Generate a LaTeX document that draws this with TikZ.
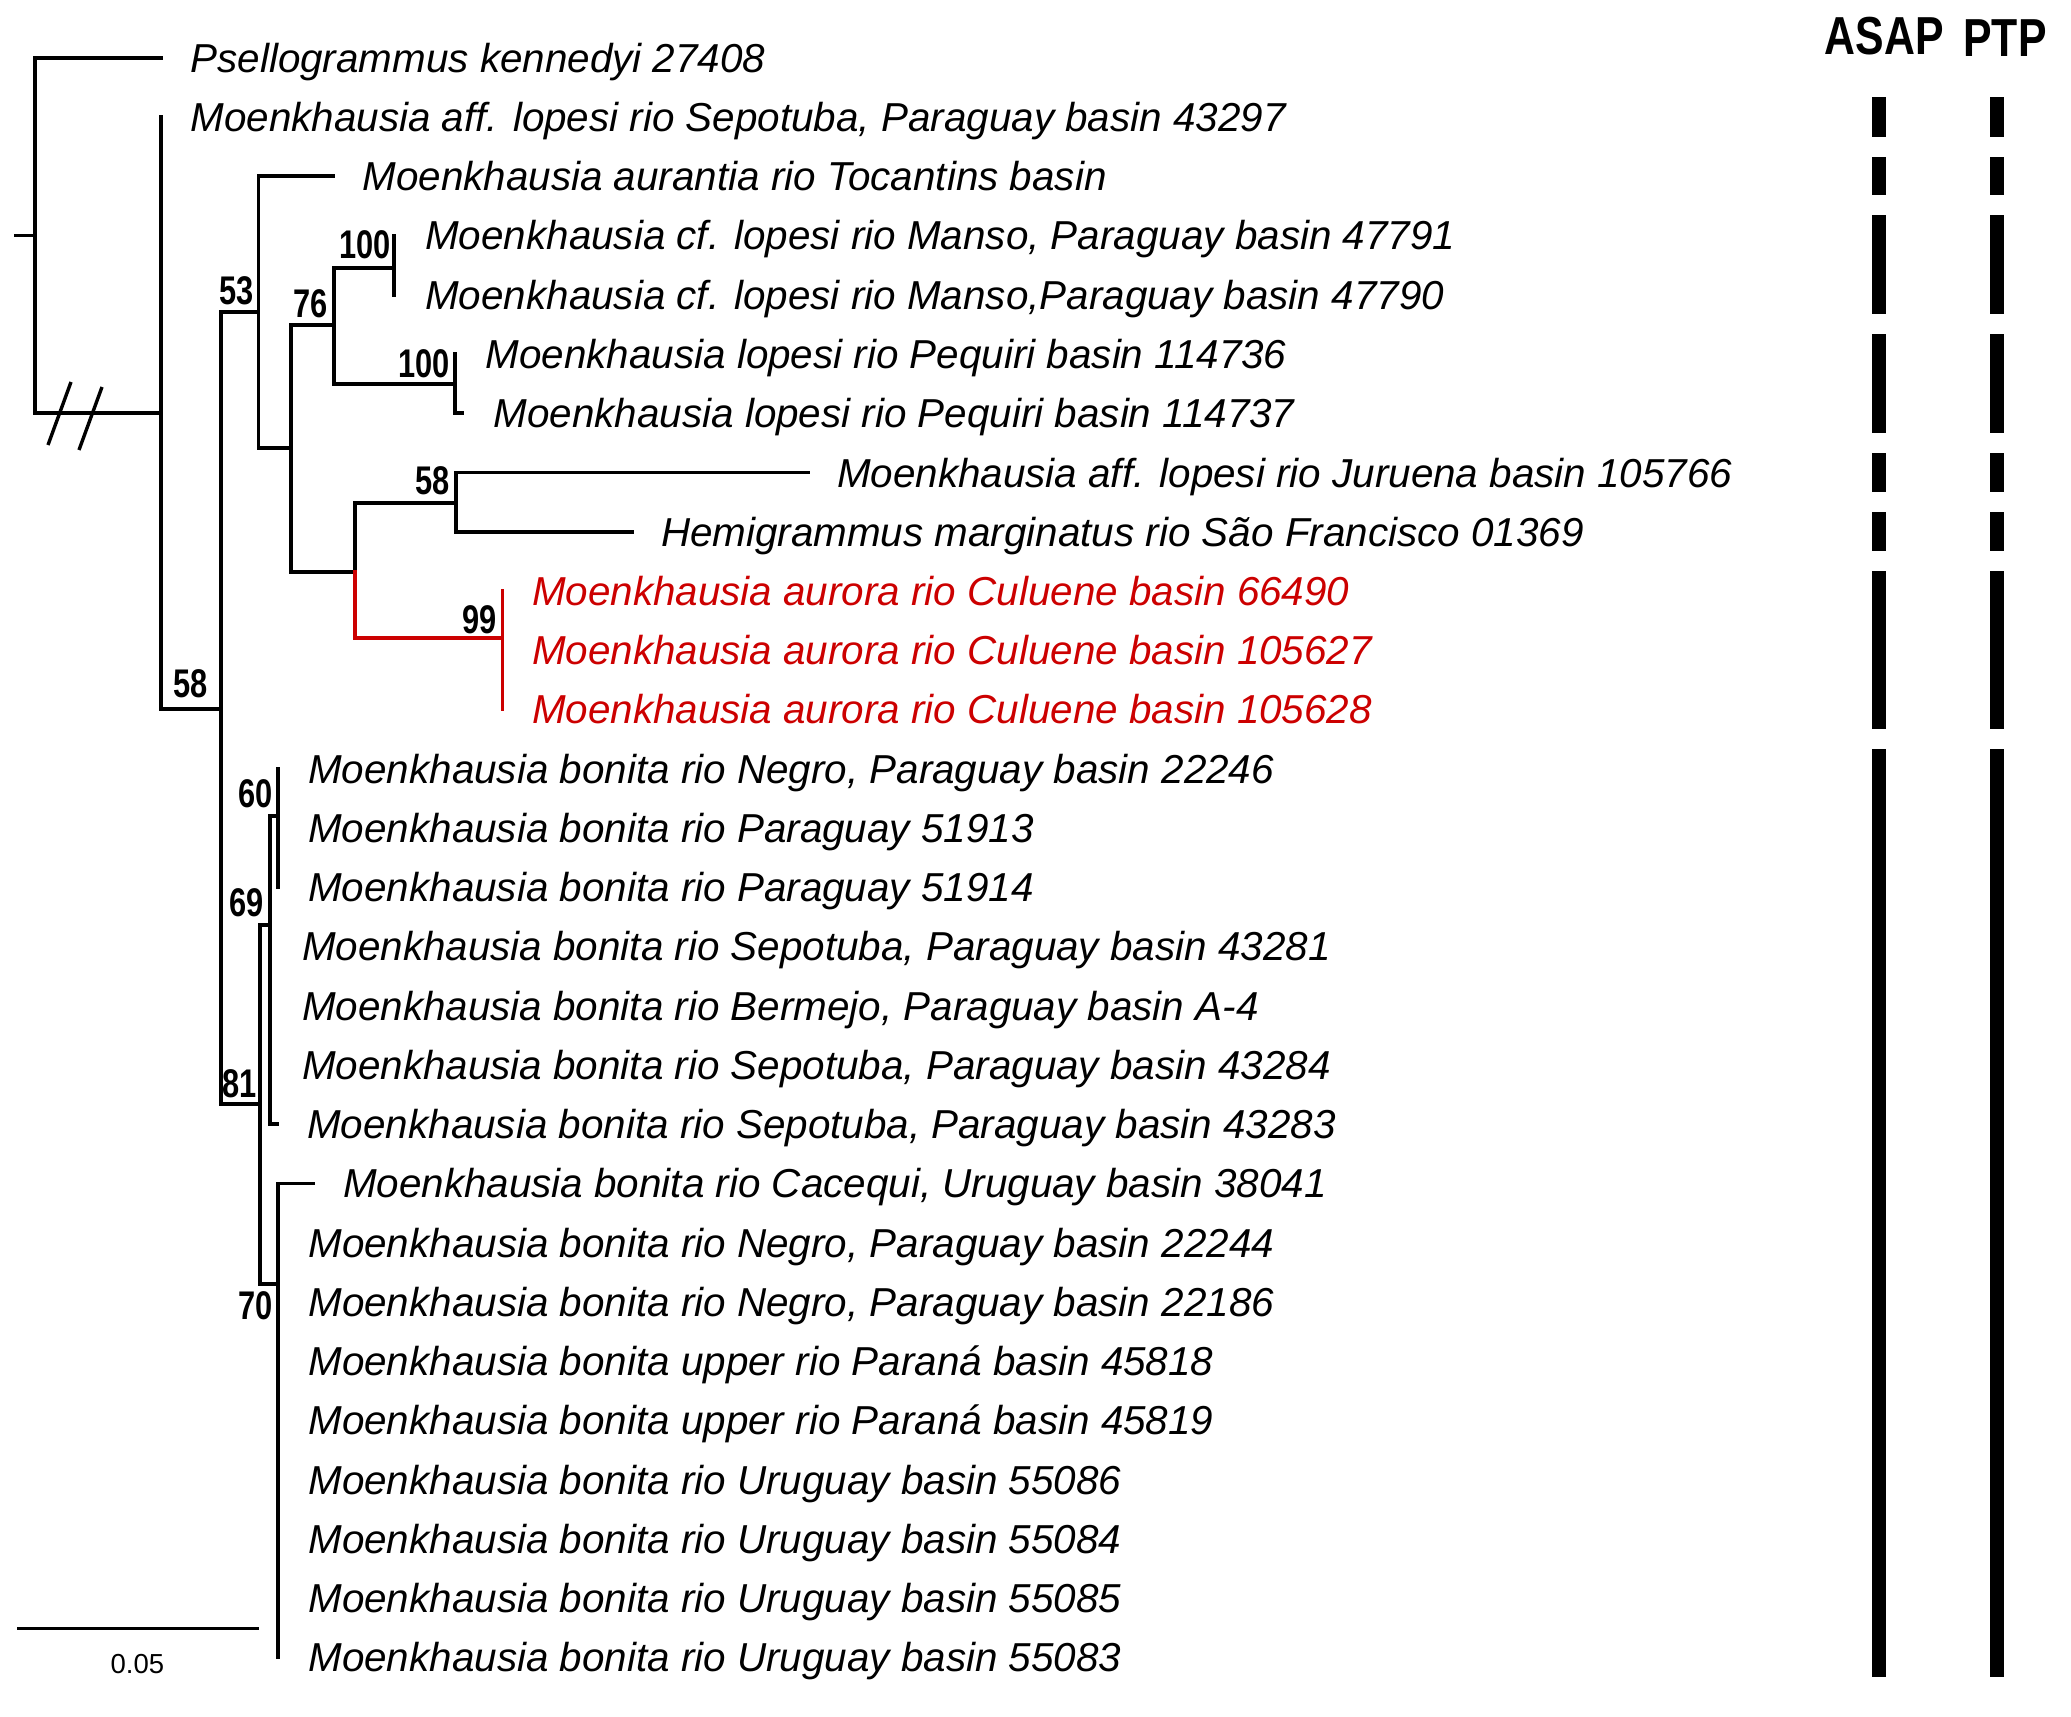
\documentclass[tikz,border=0pt]{standalone}
\usepackage{fontspec}
\setmainfont{Liberation Sans}
\newfontfamily\bsf{Liberation Sans}[FakeStretch=0.77]
\newfontfamily\hdf{Liberation Sans}[FakeStretch=0.8]
\definecolor{aurred}{RGB}{204,0,0}
\begin{document}
\begin{tikzpicture}[x=0.5pt,y=-0.5pt,
  br/.style={line width=1.9pt, line join=miter, line cap=rect},
  rbr/.style={br, draw=aurred, line width=1.7pt},
  tx/.style={font=\fontsize{20.2pt}{24pt}\selectfont\itshape, anchor=base west, inner sep=0pt, outer sep=0pt},
  rtx/.style={tx, text=aurred},
  bs/.style={font=\fontsize{20pt}{22pt}\selectfont\bsf\bfseries, inner sep=0pt},
  hd/.style={font=\fontsize{26.75pt}{30pt}\selectfont\hdf\bfseries, inner sep=0pt, anchor=base},
  barseg/.style={fill=black, draw=none}]
\useasboundingbox (0,0) rectangle (2071,1717);

% ---- tree coordinates (pixels) ----
\coordinate (Rs) at (16,235.5);
\coordinate (R) at (35,235.5);
\coordinate (l0) at (161,57.8);
\coordinate (nA) at (161,413);
\coordinate (l1) at (161,117.0);
\coordinate (n58o) at (221,709);
\coordinate (n53) at (258.5,312);
\coordinate (l2) at (332.7,176.3);
\coordinate (nB) at (291,447.8);
\coordinate (n76) at (334,325);
\coordinate (n100a) at (394,268);
\coordinate (l3) at (394,235.5);
\coordinate (l4) at (394,294.8);
\coordinate (n100b) at (455,384);
\coordinate (l5) at (455,354);
\coordinate (l6) at (462,413.2);
\coordinate (nC) at (355,572);
\coordinate (n58i) at (456,503);
\coordinate (l7) at (808,472.5);
\coordinate (l8) at (632,531.7);
\coordinate (n99) at (502.6,638);
\coordinate (l9) at (502.6,590.9);
\coordinate (l11) at (502.6,709.4);
\coordinate (n81) at (260,1104);
\coordinate (n69) at (270,925);
\coordinate (n60) at (277.7,816);
\coordinate (l12) at (277.7,768.7);
\coordinate (l14) at (277.7,887.2);
\coordinate (l18) at (277.3,1124.1);
\coordinate (n70) at (278.3,1283.6);
\coordinate (l19) at (312.7,1183.4);
\coordinate (l27) at (278.3,1657.3);

% ---- branches ----
\draw[br] (Rs) -- (R);
\draw[br] (R) |- (l0);
\draw[br] (R) |- (nA);
\draw[br] (nA) -- (l1);
\draw[br] (nA) |- (n58o);
\draw[br] (n58o) |- (n53);
\draw[br] (n58o) |- (n81);
\draw[br] (n53) |- (l2);
\draw[br] (n53) |- (nB);
\draw[br] (nB) |- (n76);
\draw[br] (nB) |- (nC);
\draw[br] (n76) |- (n100a);
\draw[br] (n76) |- (n100b);
\draw[br] (l3) -- (l4);
\draw[br] (n100b) -- (l5);
\draw[br] (n100b) |- (l6);
\draw[br] (nC) |- (n58i);
\draw[rbr] (nC) |- (n99);
\draw[br] (n58i) |- (l7);
\draw[br] (n58i) |- (l8);
\draw[rbr] (l9) -- (l11);
\draw[br] (n81) |- (n69);
\draw[br] (n81) |- (n70);
\draw[br] (n69) |- (n60);
\draw[br] (n69) |- (l18);
\draw[br] (l12) -- (l14);
\draw[br] (n70) |- (l19);
\draw[br] (n70) -- (l27);

% break marks
\draw[line width=1.7pt] (48,445) -- (71,382);
\draw[line width=1.7pt] (79,450) -- (102,387);

% ---- bootstrap values ----
\node[bs] (b53) at (236.5,291) {53};
\node[bs] (b76) at (310.4,304) {76};
\node[bs] (b100a) at (365,245) {100};
\node[bs] (b100b) at (424.3,363.7) {100};
\node[bs] (b58i) at (432.7,481) {58};
\node[bs] (b99) at (479.5,620) {99};
\node[bs] (b58o) at (191,684) {58};
\node[bs] (b60) at (255.5,793.3) {60};
\node[bs] (b69) at (247,903) {69};
\node[bs] (b81) at (239.2,1084) {81};
\node[bs] (b70) at (255.6,1306) {70};

% ---- taxon labels (baseline = row centre + 14.5) ----
\node[tx] (t0) at (190.5,72.3) {Psellogrammus kennedyi 27408};
\node[tx] (t1) at (190.5,131.5) {Moenkhausia aff. lopesi rio Sepotuba, Paraguay basin 43297};
\node[tx] (t2) at (362.5,190.8) {Moenkhausia aurantia rio Tocantins basin};
\node[tx] (t3) at (425.3,250.0) {Moenkhausia cf. lopesi rio Manso, Paraguay basin 47791};
\node[tx] (t4) at (425.3,309.3) {Moenkhausia cf. lopesi rio Manso,Paraguay basin 47790};
\node[tx] (t5) at (485.6,368.5) {Moenkhausia lopesi rio Pequiri basin 114736};
\node[tx] (t6) at (493.6,427.7) {Moenkhausia lopesi rio Pequiri basin 114737};
\node[tx] (t7) at (837,487.0) {Moenkhausia aff. lopesi rio Juruena basin 105766};
\node[tx] (t8) at (661,546.2) {Hemigrammus marginatus rio São Francisco 01369};
\node[rtx] (t9) at (532,605.4) {Moenkhausia aurora rio Culuene basin 66490};
\node[rtx] (t10) at (532,664.7) {Moenkhausia aurora rio Culuene basin 105627};
\node[rtx] (t11) at (532,723.9) {Moenkhausia aurora rio Culuene basin 105628};
\node[tx] (t12) at (308.3,783.2) {Moenkhausia bonita rio Negro, Paraguay basin 22246};
\node[tx] (t13) at (308.3,842.4) {Moenkhausia bonita rio Paraguay 51913};
\node[tx] (t14) at (308.3,901.7) {Moenkhausia bonita rio Paraguay 51914};
\node[tx] (t15) at (302,960.9) {Moenkhausia bonita rio Sepotuba, Paraguay basin 43281};
\node[tx] (t16) at (302,1020.1) {Moenkhausia bonita rio Bermejo, Paraguay basin A-4};
\node[tx] (t17) at (302,1079.4) {Moenkhausia bonita rio Sepotuba, Paraguay basin 43284};
\node[tx] (t18) at (307.3,1138.6) {Moenkhausia bonita rio Sepotuba, Paraguay basin 43283};
\node[tx] (t19) at (343,1197.9) {Moenkhausia bonita rio Cacequi, Uruguay basin 38041};
\node[tx] (t20) at (308.4,1257.1) {Moenkhausia bonita rio Negro, Paraguay basin 22244};
\node[tx] (t21) at (308.4,1316.3) {Moenkhausia bonita rio Negro, Paraguay basin 22186};
\node[tx] (t22) at (308.4,1375.6) {Moenkhausia bonita upper rio Paraná basin 45818};
\node[tx] (t23) at (308.4,1434.8) {Moenkhausia bonita upper rio Paraná basin 45819};
\node[tx] (t24) at (308.4,1494.1) {Moenkhausia bonita rio Uruguay basin 55086};
\node[tx] (t25) at (308.4,1553.3) {Moenkhausia bonita rio Uruguay basin 55084};
\node[tx] (t26) at (308.4,1612.5) {Moenkhausia bonita rio Uruguay basin 55085};
\node[tx] (t27) at (308.4,1671.8) {Moenkhausia bonita rio Uruguay basin 55083};

% ---- scale bar ----
\coordinate (sb1) at (17,1628);
\coordinate (sb2) at (259,1628);
\draw[line width=1.5pt] (sb1) -- (sb2);
\node[font=\fontsize{13.75pt}{16pt}\selectfont, inner sep=0pt] (sbl) at (137.4,1664) {0.05};

% ---- species delimitation bars ----
\node[hd] (asap) at (1884.4,55) {ASAP};
\node[hd] (ptp) at (2005,56.5) {PTP};
\foreach \t/\b in {97.3/136.8, 157/195, 215.5/314.2, 334/432.7, 452.5/492, 511.7/551.2, 570.9/728.9, 748.7/1677.3}{
  \fill[barseg] (1872,\t) rectangle (1886,\b);
  \fill[barseg] (1990,\t) rectangle (2004,\b);
}
\end{tikzpicture}
\end{document}
